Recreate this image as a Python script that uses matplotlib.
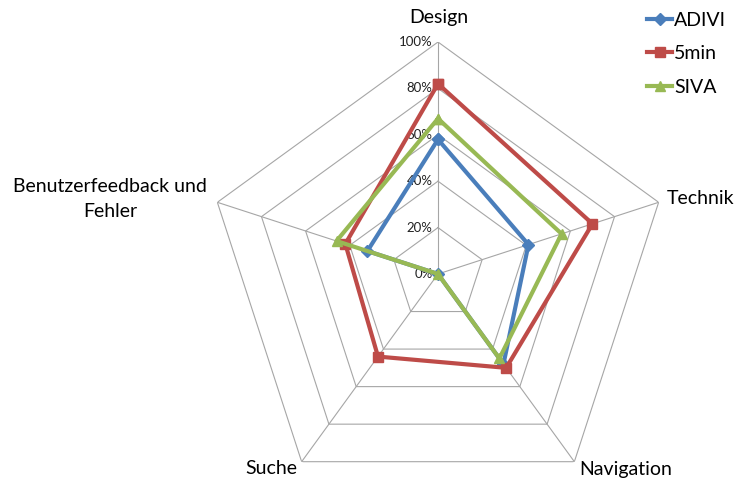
import numpy as np
import matplotlib.pyplot as plt

categories = ['Design', 'Technik', 'Navigation', 'Suche', 'Benutzerfeedback und\nFehler']
adivi = [0.58, 0.41, 0.48, 0.0, 0.32]
fivemin = [0.82, 0.70, 0.50, 0.44, 0.42]
siva = [0.67, 0.56, 0.45, 0.0, 0.46]
ring_levels = [0.2, 0.4, 0.6, 0.8, 1.0]
ring_labels = ['0%', '20%', '40%', '60%', '80%', '100%']

plt.rcParams['font.family'] = ['Lato', 'DejaVu Sans']

fig = plt.figure(figsize=(7.38, 4.8), dpi=100)
# centre at about (438, 274) px, 100% radius about 232 px
ax = fig.add_axes([206 / 738, -26 / 480, 464 / 738, 464 / 480], projection='polar')
ax.set_theta_zero_location('N')
ax.set_theta_direction(-1)
ax.set_ylim(0, 1)
ax.grid(False)
ax.spines['polar'].set_visible(False)
ax.set_xticks([])
ax.set_yticks([])
ax.patch.set_alpha(0)

n = len(categories)
angles = np.linspace(0, 2 * np.pi, n, endpoint=False)
closed = np.append(angles, angles[0])

grid_color = '#a6a6a6'
for r in ring_levels:
    ax.plot(closed, [r] * (n + 1), color=grid_color, lw=0.8, zorder=1)
for a in angles:
    ax.plot([a, a], [0, 1], color=grid_color, lw=0.8, zorder=1)

# percent labels along the top spoke
for r, lab in zip([0.0] + ring_levels, ring_labels):
    ax.annotate(lab, xy=(0, r), xytext=(-4, 0), textcoords='offset points',
                ha='right', va='center', fontsize=9.5, color='#222222', zorder=2)

series = [('ADIVI', adivi, '#4a7ebb', 'D', 6),
          ('5min', fivemin, '#be4b48', 's', 7),
          ('SIVA', siva, '#98b954', '^', 7.5)]
for name, vals, col, mk, ms in series:
    v = np.append(vals, vals[0])
    ax.plot(closed, v, color=col, lw=3, marker=mk, markersize=ms,
            label=name, zorder=3, clip_on=False)

# category labels
fs = 14
fig.text(439 / 738, 1 - 18 / 480, categories[0], ha='center', va='center', fontsize=fs)
fig.text(667 / 738, 1 - 199 / 480, categories[1], ha='left', va='center', fontsize=fs)
fig.text(626 / 738, 1 - 469 / 480, categories[2], ha='center', va='center', fontsize=fs)
fig.text(271 / 738, 1 - 469 / 480, categories[3], ha='center', va='center', fontsize=fs)
fig.text(110 / 738, 1 - 199 / 480, categories[4], ha='center', va='center', fontsize=fs,
         linespacing=1.6)

fig.legend(loc='upper right', bbox_to_anchor=(1.0, 1.0), frameon=False, fontsize=14,
           handlelength=1.3, handletextpad=0.1, labelspacing=0.85, borderaxespad=0.2)

fig.savefig('out.png', dpi=100)
